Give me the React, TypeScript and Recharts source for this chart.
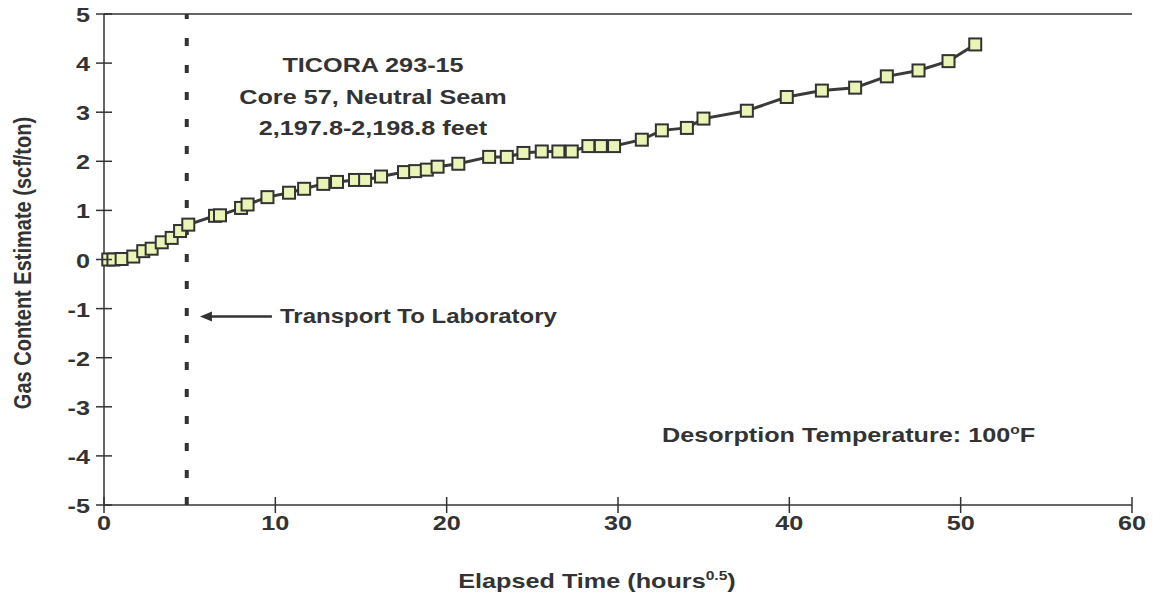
import { LineChart, Line, XAxis, YAxis, ReferenceLine } from 'recharts';

// square root of elapsed hours
const elapsed = [
  0.25, 0.55, 1.03, 1.71, 2.29, 2.78, 3.37, 3.95, 4.44, 4.92, 6.48, 6.77, 8.0, 8.38,
  9.54, 10.8, 11.68, 12.8, 13.6, 14.65, 15.24, 16.17, 17.51, 18.16, 18.84, 19.47,
  20.68, 22.48, 23.51, 24.48, 25.55, 26.52, 27.3, 28.27, 29.0, 29.77, 31.39, 32.56,
  34.02, 34.99, 37.52, 39.85, 41.9, 43.84, 45.69, 47.54, 49.29, 50.85,
];
// scf/ton
const gasContent = [
  0.0, 0.0, 0.01, 0.06, 0.17, 0.22, 0.35, 0.44, 0.58, 0.71, 0.89, 0.9, 1.05, 1.12,
  1.27, 1.36, 1.44, 1.54, 1.58, 1.62, 1.62, 1.69, 1.78, 1.8, 1.83, 1.89,
  1.95, 2.09, 2.09, 2.17, 2.2, 2.2, 2.2, 2.31, 2.31, 2.31, 2.44, 2.63,
  2.68, 2.87, 3.03, 3.31, 3.44, 3.5, 3.73, 3.85, 4.04, 4.38,
];
const xTicks = [0, 10, 20, 30, 40, 50, 60];
const yTicks = [-5, -4, -3, -2, -1, 0, 1, 2, 3, 4, 5];
const transportTime = 4.83;
const arrowSpan = [5.6, 9.8];
const arrowLevel = -1.16;

const data = elapsed.map((t, i) => ({ t, gas: gasContent[i] }));

const ink = '#333';
const font = '"Liberation Sans", Arial, sans-serif';
// the scanned original is a bit wider than tall
const stretch = 1.2;

function XTick({ x, y, payload }: any) {
  return (
    <g>
      <line x1={x} x2={x} y1={y - 8} y2={y + 8} stroke={ink} strokeWidth={1.5} />
      <text
        transform={`translate(${x},${y + 25}) scale(${stretch},1)`}
        textAnchor="middle"
        fontSize={21}
        fontWeight="bold"
        fill={ink}
        fontFamily={font}
      >
        {payload.value}
      </text>
    </g>
  );
}

function YTick({ x, y, payload }: any) {
  return (
    <g>
      <line x1={x - 8} x2={x + 8} y1={y} y2={y} stroke={ink} strokeWidth={1.5} />
      <text
        transform={`translate(${x - 14},${y + 8}) scale(${stretch},1)`}
        textAnchor="end"
        fontSize={21}
        fontWeight="bold"
        fill={ink}
        fontFamily={font}
      >
        {payload.value}
      </text>
    </g>
  );
}

function SquareDot({ cx, cy }: any) {
  return <rect x={cx - 6} y={cy - 6} width={12} height={12} fill="#eaf4b6" stroke={ink} strokeWidth={2} />;
}

function ArrowShape({ x1, y1, x2, y2 }: any) {
  const left = Math.min(x1, x2);
  const right = Math.max(x1, x2);
  return (
    <g>
      <line x1={left + 8} x2={right} y1={y1} y2={y2} stroke={ink} strokeWidth={2.5} />
      <polygon points={`${left},${y1} ${left + 12},${y1 - 5} ${left + 12},${y1 + 5}`} fill={ink} />
    </g>
  );
}

const wide = (origin: string) => ({ transform: `scaleX(${stretch})`, transformOrigin: origin });

export default function App() {
  return (
    <div style={{ position: 'absolute', left: 0, top: 0, width: 1153, height: 608, background: '#fff', fontFamily: font }}>
      <LineChart width={1153} height={608} data={data} margin={{ top: 14, right: 21, left: 0, bottom: 0 }}>
        <XAxis
          dataKey="t"
          type="number"
          domain={[0, 60]}
          ticks={xTicks}
          height={103}
          tickSize={0}
          tickMargin={0}
          tickLine={false}
          tick={<XTick />}
          axisLine={{ stroke: ink, strokeWidth: 1.5 }}
        />
        <YAxis
          type="number"
          domain={[-5, 5]}
          ticks={yTicks}
          width={104}
          tickSize={0}
          tickMargin={0}
          tickLine={false}
          tick={<YTick />}
          axisLine={{ stroke: ink, strokeWidth: 1.5 }}
        />
        <ReferenceLine y={5} stroke={ink} strokeWidth={1.5} />
        <ReferenceLine x={transportTime} stroke={ink} strokeWidth={4} strokeDasharray="8 19" />
        <ReferenceLine
          segment={[
            { x: arrowSpan[0], y: arrowLevel },
            { x: arrowSpan[1], y: arrowLevel },
          ]}
          shape={<ArrowShape />}
        />
        <Line
          type="linear"
          dataKey="gas"
          stroke="#3a3a3a"
          strokeWidth={3}
          dot={<SquareDot />}
          activeDot={false}
          isAnimationActive={false}
        />
      </LineChart>

      <div
        style={{
          position: 'absolute',
          left: 173,
          top: 49,
          width: 400,
          textAlign: 'center',
          fontSize: 21,
          lineHeight: '31.5px',
          fontWeight: 'bold',
          color: ink,
          ...wide('50% 50%'),
        }}
      >
        <div>TICORA 293-15</div>
        <div>Core 57, Neutral Seam</div>
        <div>2,197.8-2,198.8 feet</div>
      </div>
      <div style={{ position: 'absolute', left: 280, top: 305, fontSize: 20, fontWeight: 'bold', color: ink, whiteSpace: 'nowrap', ...wide('0 50%') }}>
        Transport To Laboratory
      </div>
      <div style={{ position: 'absolute', left: 662, top: 422, fontSize: 21, fontWeight: 'bold', color: ink, whiteSpace: 'nowrap', ...wide('0 50%') }}>
        Desorption Temperature: 100<sup style={{ fontSize: 13 }}>o</sup>F
      </div>
      <div
        style={{
          position: 'absolute',
          left: 0,
          top: 568,
          width: 1194,
          textAlign: 'center',
          fontSize: 21,
          fontWeight: 'bold',
          color: ink,
          whiteSpace: 'nowrap',
          ...wide('50% 50%'),
        }}
      >
        Elapsed Time (hours<sup style={{ fontSize: 13 }}>0.5</sup>)
      </div>
      <div
        style={{
          position: 'absolute',
          left: 23,
          top: 263,
          transform: 'translate(-50%, -50%) rotate(-90deg) scaleY(1.2)',
          fontSize: 20,
          fontWeight: 'bold',
          color: ink,
          whiteSpace: 'nowrap',
        }}
      >
        Gas Content Estimate (scf/ton)
      </div>
    </div>
  );
}
